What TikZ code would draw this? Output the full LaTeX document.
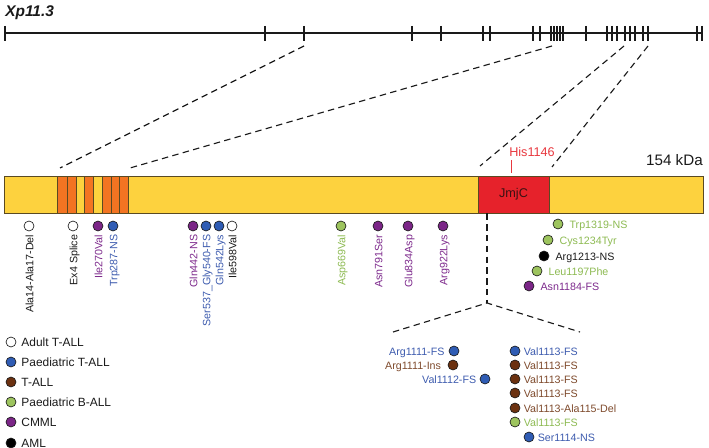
\documentclass[tikz,border=0pt]{standalone}
\usepackage{fontspec}
\setmainfont{Liberation Sans}
\usetikzlibrary{positioning}
\definecolor{ink}{HTML}{1A1A1A}
\definecolor{barfill}{HTML}{FDD23E}
\definecolor{barborder}{HTML}{5A4A22}
\definecolor{stripefill}{HTML}{F37422}
\definecolor{jmjfill}{HTML}{E6222B}
\definecolor{jmjtext}{HTML}{3A1212}
\definecolor{hisred}{HTML}{E8383F}
\definecolor{paedtfill}{HTML}{2F5CB4}
\definecolor{paedttext}{HTML}{3D5BAE}
\definecolor{tallfill}{HTML}{6B3110}
\definecolor{talltext}{HTML}{7E4A2C}
\definecolor{paedbfill}{HTML}{9DC45E}
\definecolor{paedbtext}{HTML}{8DBA52}
\definecolor{cmmlfill}{HTML}{7B2587}
\definecolor{cmmltext}{HTML}{7D2A8C}
\tikzset{
  every node/.style={inner sep=0pt, text=ink},
  title/.style={font=\fontsize{11}{13}\selectfont\bfseries\itshape},
  chrom/.style={draw=ink, line width=1.5pt},
  tick/.style={draw=ink, line width=1.5pt},
  guide/.style={draw=ink, line width=0.8pt, dash pattern=on 1.6mm off 1.1mm},
  protein/.style={rectangle, draw=barborder, fill=barfill, line width=0.7pt,
    minimum width=174.75mm, minimum height=9.25mm},
  stripe/.style={draw=barborder, fill=stripefill, line width=0.6pt},
  jmj/.style={rectangle, draw=barborder, fill=jmjfill, line width=0.7pt,
    minimum width=17.75mm, minimum height=9.25mm, text=jmjtext,
    font=\fontsize{9}{11}\selectfont},
  hislabel/.style={font=\fontsize{9}{11}\selectfont, text=hisred},
  hismark/.style={draw=hisred, line width=0.6pt},
  mass/.style={font=\fontsize{10.8}{13}\selectfont},
  dot/.style={circle, minimum size=2.5mm, inner sep=0pt, draw=ink,
    line width=0.45pt},
  adultdot/.style={dot, fill=white},
  paedtdot/.style={dot, fill=paedtfill},
  talldot/.style={dot, fill=tallfill},
  paedbdot/.style={dot, fill=paedbfill},
  cmmldot/.style={dot, fill=cmmlfill},
  amldot/.style={dot, fill=black},
  mutlabel/.style={font=\fontsize{7.6}{9}\selectfont, text height=1.5ex,
    text depth=0.3ex},
  vlabel/.style={mutlabel, rotate=90, anchor=east},
  keytext/.style={font=\fontsize{8.5}{10}\selectfont, text height=1.5ex,
    text depth=0.3ex}
}
\begin{document}
\begin{tikzpicture}[x=0.25mm,y=-0.25mm]
  \useasboundingbox (0,0) rectangle (709,448);

  % Chromosome band and exon ticks.
  \node[title, anchor=base west] (band) at (5,17) {Xp11.3};
  \draw[chrom] (5,33) -- (702,33);
  \foreach \t in {5,265,304,412,441,483,490,533,540,551,554,557,560,563,
      586,607,612,617,625,630,635,643,648,697,702}
    \draw[tick] (\t,26) -- (\t,41);

  % Protein bar, repeat stripes and JmjC domain.
  \node[protein] (protein) at (353.5,194.5) {};
  \foreach \a/\b in {57/67,67/76,84/93,102/111,111/119,119/128}
    \draw[stripe] (\a,176) rectangle (\b,213);
  \node[jmj] (jmjc) at (513.5,194.5) {JmjC};
  \node[hislabel, anchor=base west] (his) at (509,157) {His1146};
  \coordinate (histip) at (511,173);
  \draw[hismark] (histip) -- ++(0,-13);
  \node[mass, anchor=base east] (kda) at (703,166) {154 kDa};

  % Exons mapped onto the protein.
  \coordinate (exon-a) at (304,46);
  \coordinate (exon-b) at (552,46);
  \coordinate (exon-c) at (624,46);
  \coordinate (exon-d) at (648,46);
  \coordinate (prot-a) at (60,168);
  \coordinate (prot-b) at (130,168);
  \coordinate (prot-c) at (480,166);
  \coordinate (prot-d) at (552,167);
  \draw[guide] (exon-a) -- (prot-a);
  \draw[guide] (exon-b) -- (prot-b);
  \draw[guide] (exon-c) -- (prot-c);
  \draw[guide] (exon-d) -- (prot-d);

  % Zoom into the JmjC hotspot.
  \coordinate (split) at (487,303);
  \coordinate (fan-left) at (393,332);
  \coordinate (fan-right) at (580,332);
  \draw[guide] (split |- jmjc.south) -- (split);
  \draw[guide] (fan-left) -- (split) -- (fan-right);

  % Mutations below the bar, labels turned upright.
  \node[adultdot] (ala14) at (29,226) {};
  \node[vlabel] (ala14-label) at ([yshift=-0.8mm]ala14.south) {Ala14-Ala17-Del};
  \node[adultdot] (ex4) at (73,226) {};
  \node[vlabel] (ex4-label) at ([yshift=-0.8mm]ex4.south) {Ex4 Splice};
  \node[cmmldot] (ile270) at (98,226) {};
  \node[vlabel, text=cmmltext] (ile270-label) at ([yshift=-0.8mm]ile270.south) {Ile270Val};
  \node[paedtdot] (trp287) at (113,226) {};
  \node[vlabel, text=paedttext] (trp287-label) at ([yshift=-0.8mm]trp287.south) {Trp287-NS};
  \node[cmmldot] (gln442) at (193,226) {};
  \node[vlabel, text=cmmltext] (gln442-label) at ([yshift=-0.8mm]gln442.south) {Gln442-NS};
  \node[paedtdot] (gly540) at (206,226) {};
  \node[vlabel, text=paedttext] (gly540-label) at ([yshift=-0.8mm]gly540.south) {Ser537\_Gly540-FS};
  \node[paedtdot] (gln542) at (219,226) {};
  \node[vlabel, text=paedttext] (gln542-label) at ([yshift=-0.8mm]gln542.south) {Gln542Lys};
  \node[adultdot] (ile598) at (232,226) {};
  \node[vlabel] (ile598-label) at ([yshift=-0.8mm]ile598.south) {Ile598Val};
  \node[paedbdot] (asp669) at (341,226) {};
  \node[vlabel, text=paedbtext] (asp669-label) at ([yshift=-0.8mm]asp669.south) {Asp669Val};
  \node[cmmldot] (asn791) at (378,226) {};
  \node[vlabel, text=cmmltext] (asn791-label) at ([yshift=-0.8mm]asn791.south) {Asn791Ser};
  \node[cmmldot] (glu834) at (408,226) {};
  \node[vlabel, text=cmmltext] (glu834-label) at ([yshift=-0.8mm]glu834.south) {Glu834Asp};
  \node[cmmldot] (arg922) at (443,226) {};
  \node[vlabel, text=cmmltext] (arg922-label) at ([yshift=-0.8mm]arg922.south) {Arg922Lys};

  % C-terminal mutations.
  \node[paedbdot] (trp1319) at (558,224) {};
  \node[mutlabel, text=paedbtext, right=1.5mm of trp1319] (trp1319-label) {Trp1319-NS};
  \node[paedbdot] (cys1234) at (548,240) {};
  \node[mutlabel, text=paedbtext, right=1.5mm of cys1234] (cys1234-label) {Cys1234Tyr};
  \node[amldot] (arg1213) at (544,256) {};
  \node[mutlabel, right=1.5mm of arg1213] (arg1213-label) {Arg1213-NS};
  \node[paedbdot] (leu1197) at (537,271) {};
  \node[mutlabel, text=paedbtext, right=1.5mm of leu1197] (leu1197-label) {Leu1197Phe};
  \node[cmmldot] (asn1184) at (529,286) {};
  \node[mutlabel, text=cmmltext, right=1.5mm of asn1184] (asn1184-label) {Asn1184-FS};

  % Hotspot cluster, left column.
  \node[paedtdot] (arg1111a) at (454,351) {};
  \node[mutlabel, text=paedttext, left=1mm of arg1111a] (arg1111a-label) {Arg1111-FS};
  \node[talldot] (arg1111b) at (453,365) {};
  \node[mutlabel, text=talltext, left=1.6mm of arg1111b] (arg1111b-label) {Arg1111-Ins};
  \node[paedtdot] (val1112) at (485,379) {};
  \node[mutlabel, text=paedttext, left=0.8mm of val1112] (val1112-label) {Val1112-FS};

  % Hotspot cluster, right column.
  \node[paedtdot] (val1113a) at (515,351) {};
  \node[mutlabel, text=paedttext, right=0.8mm of val1113a] (val1113a-label) {Val1113-FS};
  \node[talldot] (val1113b) at (515,365) {};
  \node[mutlabel, text=talltext, right=0.8mm of val1113b] (val1113b-label) {Val1113-FS};
  \node[talldot] (val1113c) at (515,379) {};
  \node[mutlabel, text=talltext, right=0.8mm of val1113c] (val1113c-label) {Val1113-FS};
  \node[talldot] (val1113d) at (515,393) {};
  \node[mutlabel, text=talltext, right=0.8mm of val1113d] (val1113d-label) {Val1113-FS};
  \node[talldot] (val1113e) at (515,408) {};
  \node[mutlabel, text=talltext, right=0.8mm of val1113e] (val1113e-label) {Val1113-Ala115-Del};
  \node[paedbdot] (val1113f) at (515,422) {};
  \node[mutlabel, text=paedbtext, right=0.8mm of val1113f] (val1113f-label) {Val1113-FS};
  \node[paedtdot] (ser1114) at (529,437) {};
  \node[mutlabel, text=paedttext, right=0.8mm of ser1114] (ser1114-label) {Ser1114-NS};

  % Disease key.
  \node[adultdot] (key-adult) at (11,342) {};
  \node[keytext, right=1.2mm of key-adult] (key-adult-text) {Adult T-ALL};
  \node[paedtdot] (key-paedt) at (11,362) {};
  \node[keytext, right=1.2mm of key-paedt] (key-paedt-text) {Paediatric T-ALL};
  \node[talldot] (key-tall) at (11,382) {};
  \node[keytext, right=1.2mm of key-tall] (key-tall-text) {T-ALL};
  \node[paedbdot] (key-paedb) at (11,402) {};
  \node[keytext, right=1.2mm of key-paedb] (key-paedb-text) {Paediatric B-ALL};
  \node[cmmldot] (key-cmml) at (11,422) {};
  \node[keytext, right=1.2mm of key-cmml] (key-cmml-text) {CMML};
  \node[amldot] (key-aml) at (11,443) {};
  \node[keytext, right=1.2mm of key-aml] (key-aml-text) {AML};
\end{tikzpicture}
\end{document}
